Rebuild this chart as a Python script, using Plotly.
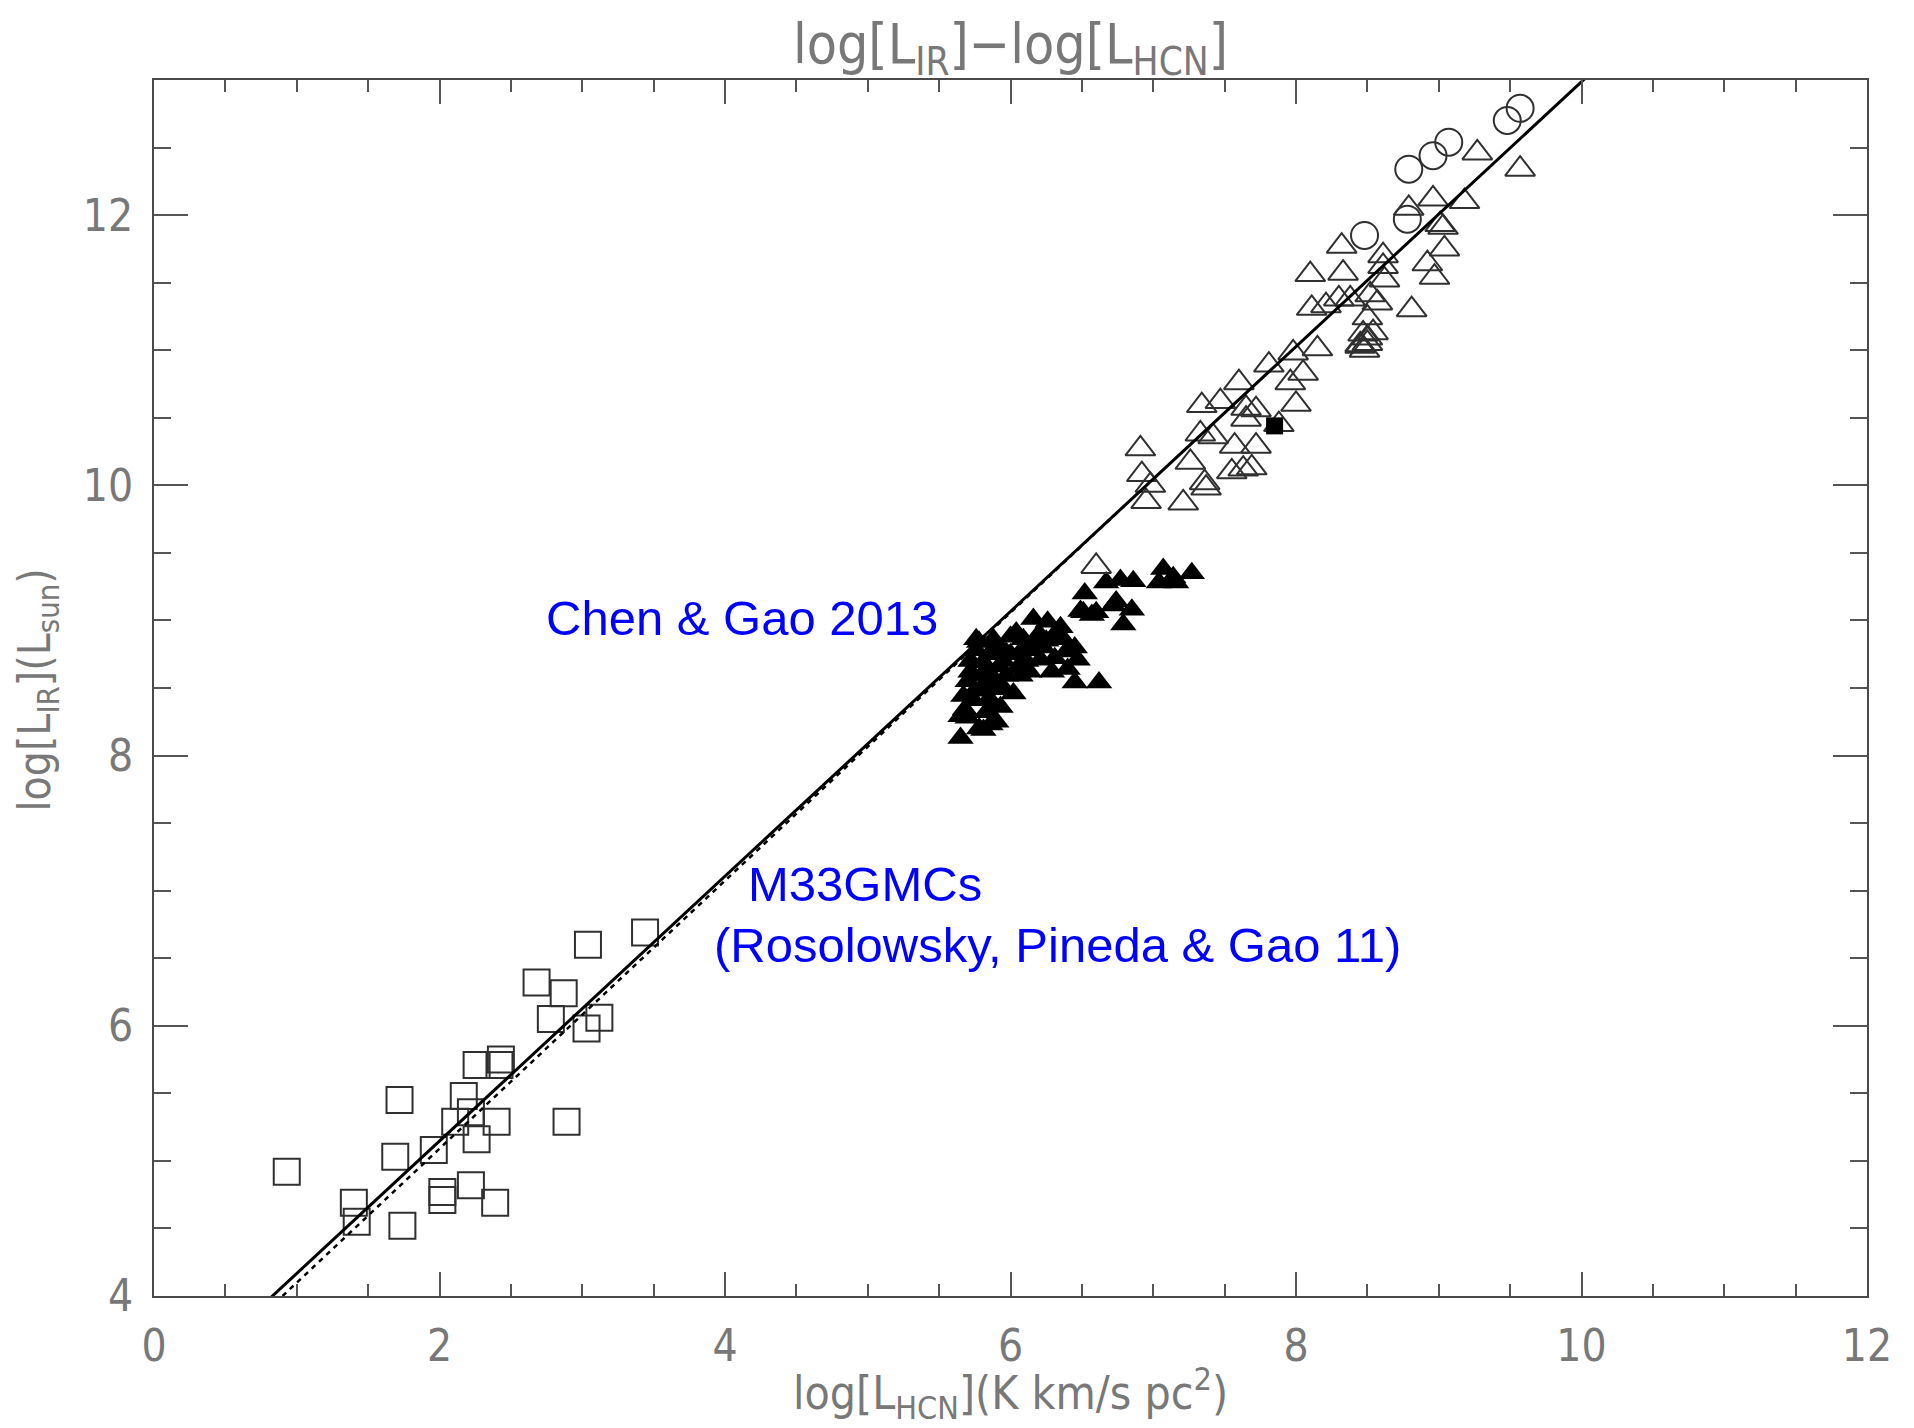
import numpy as np
import plotly.graph_objects as go

# ---- data: log L_HCN (x) vs log L_IR (y) ----
# M33 giant molecular clouds (open squares)
m33_x = [0.93, 1.40, 1.42, 1.74, 1.69, 1.72, 1.96, 2.02, 2.02, 2.22, 2.39, 2.17, 2.22,
         2.11, 2.26, 2.40, 2.26, 2.43, 2.42, 2.89, 2.68, 2.87, 2.78, 3.03, 3.12, 3.04, 3.44]
m33_y = [4.92, 4.69, 4.55, 4.52, 5.03, 5.45, 5.08, 4.77, 4.71, 4.82, 4.69, 5.48, 5.36,
         5.29, 5.16, 5.29, 5.71, 5.75, 5.71, 5.29, 6.32, 6.24, 6.05, 5.98, 6.06, 6.60, 6.69]

# Chen & Gao 2013 (filled triangles)
chen_x = [5.65, 5.81, 5.86, 5.68, 5.74, 5.83, 5.93, 6.02, 5.72, 5.76, 5.81, 5.89, 5.97,
          6.07, 5.97, 5.88, 6.00, 6.09, 6.16, 6.26, 6.18, 6.30, 6.37, 6.39, 6.31, 6.21,
          6.11, 6.47, 6.29, 6.45, 6.62, 6.51, 6.60, 6.72, 6.85, 6.79, 6.04, 5.79, 5.65,
          5.93, 5.83, 5.76, 6.74, 6.67, 6.77, 6.86, 7.07, 7.14, 7.04, 7.16, 7.27, 6.52,
          6.49, 6.57, 5.70, 5.95, 6.15, 5.85, 6.05, 6.25, 5.90, 5.78, 6.40,
          5.70, 5.75, 5.80, 5.85, 5.90, 5.95, 6.00, 6.10, 6.20, 6.35, 6.13, 5.88, 5.72,
          6.45, 5.78, 5.92, 6.08, 6.23, 5.84, 5.67]
chen_y = [8.13, 8.19, 8.23, 8.34, 8.41, 8.32, 8.36, 8.46, 8.62, 8.78, 8.69, 8.56, 8.59,
          8.59, 8.76, 8.86, 8.88, 8.86, 9.01, 8.99, 8.83, 8.88, 8.86, 8.77, 8.72, 8.71,
          8.70, 8.71, 8.62, 8.54, 8.54, 9.06, 9.06, 9.11, 9.08, 8.97, 8.91, 8.49, 8.29,
          8.49, 8.59, 8.86, 9.14, 9.28, 9.30, 9.29, 9.38, 9.32, 9.28, 9.28, 9.35, 9.20,
          9.07, 9.04, 8.55, 8.70, 8.78, 8.42, 8.65, 8.85, 8.25, 8.20, 8.64,
          8.28, 8.48, 8.60, 8.75, 8.80, 8.50, 8.75, 8.80, 8.90, 8.95, 8.62, 8.38, 8.70,
          8.80, 8.84, 8.66, 8.78, 8.80, 8.52, 8.44]

# normal galaxies and LIRGs (open triangles)
gal_x = [6.60, 6.91, 6.92, 6.98, 6.95, 7.21, 7.37, 7.36, 7.26, 7.34, 7.33, 7.42, 7.47,
         7.57, 7.60, 7.55, 7.63, 7.69, 7.72, 7.65, 7.72, 7.65, 7.88, 7.81, 7.96, 8.05,
         8.00, 8.15, 7.98, 8.45, 8.50, 8.48, 9.27, 9.57, 9.18, 8.96, 8.79, 9.01, 9.03,
         9.04, 8.92, 8.97, 8.81, 8.32, 8.10, 8.33, 8.11, 8.30, 8.38, 8.61, 8.61, 8.62,
         8.52, 8.57, 8.50, 8.47, 8.50, 8.45, 8.54, 8.21]
gal_y = [9.40, 10.27, 10.08, 10.00, 9.88, 9.87, 9.98, 10.02, 10.17, 10.59, 10.38, 10.36,
         10.62, 10.29, 10.76, 10.10, 10.12, 10.13, 10.29, 10.57, 10.56, 10.49, 10.45,
         10.89, 10.76, 10.83, 10.60, 11.01, 10.98, 11.04, 11.05, 11.00, 12.46, 12.34,
         12.10, 12.12, 12.05, 11.93, 11.91, 11.75, 11.64, 11.54, 11.30, 11.77, 11.56,
         11.57, 11.31, 11.38, 11.38, 11.70, 11.62, 11.52, 11.41, 11.35, 11.24, 11.12,
         11.09, 11.03, 11.13, 11.33]

# ULIRGs (open circles)
ulirg_x = [8.48, 8.79, 8.96, 9.07, 9.48, 9.57, 8.78]
ulirg_y = [11.85, 12.34, 12.44, 12.54, 12.70, 12.79, 11.97]

# single filled square
sq_x = [7.85]
sq_y = [10.44]

# fitted relations: log L_IR = slope * log L_HCN + intercept
fit_slope, fit_intercept = 0.98, 3.187            # all data (solid)
fit2_slope, fit2_intercept = 0.9917, 3.107        # dashed relation
fit2_xmax = 6.8

x_ticks = [0, 2, 4, 6, 8, 10, 12]
y_ticks = [4, 6, 8, 10, 12]

GRAY = "#787878"
INK = "#303030"
AXFONT = "Liberation Sans Narrow, DejaVu Sans Condensed, Liberation Sans, sans-serif"
BLUE_FONT = "Liberation Sans, Arial, sans-serif"

fig = go.Figure()

fig.add_trace(go.Scatter(
    x=m33_x, y=m33_y, mode="markers",
    marker=dict(symbol="square-open", size=26, color=INK, line=dict(width=2, color=INK)),
    showlegend=False))

fig.add_trace(go.Scatter(
    x=chen_x, y=chen_y, mode="markers",
    marker=dict(symbol="triangle-up", size=23, color="black", line=dict(width=0)),
    showlegend=False))

fig.add_trace(go.Scatter(
    x=gal_x, y=gal_y, mode="markers",
    marker=dict(symbol="triangle-up-open", size=26, color=INK, line=dict(width=2, color=INK)),
    showlegend=False))

fig.add_trace(go.Scatter(
    x=ulirg_x, y=ulirg_y, mode="markers",
    marker=dict(symbol="circle-open", size=27, color=INK, line=dict(width=2, color=INK)),
    showlegend=False))

fig.add_trace(go.Scatter(
    x=sq_x, y=sq_y, mode="markers",
    marker=dict(symbol="square", size=17, color="black", line=dict(width=0)),
    showlegend=False))

# dashed fit
x2_lo = (4 - fit2_intercept) / fit2_slope
x2 = np.array([x2_lo, fit2_xmax])
fig.add_trace(go.Scatter(
    x=x2, y=fit2_slope * x2 + fit2_intercept, mode="lines",
    line=dict(color="black", width=2.5, dash="5px,5px"), showlegend=False))

# solid fit across the full axis range (clipped by the plot area)
x1 = np.array([0.0, 12.0])
fig.add_trace(go.Scatter(
    x=x1, y=fit_slope * x1 + fit_intercept, mode="lines",
    line=dict(color="black", width=3), showlegend=False))

axis_common = dict(
    showgrid=False, zeroline=False, showline=True, linecolor="#4a4a4a", linewidth=2,
    mirror="ticks", ticks="inside", tickcolor="#555555", tickwidth=1.5,
    tickfont=dict(family=AXFONT, size=44, color=GRAY),
)

fig.update_xaxes(
    range=[0, 12], tickvals=x_ticks, ticktext=[str(v) for v in x_ticks],
    ticklen=24, ticklabelstandoff=10,
    minor=dict(dtick=0.5, ticks="inside", ticklen=12, tickcolor="#555555", tickwidth=1.5),
    **axis_common)
fig.update_yaxes(
    range=[4, 13], tickvals=y_ticks, ticktext=[str(v) for v in y_ticks],
    ticklen=34, ticklabelstandoff=10,
    minor=dict(dtick=0.5, ticks="inside", ticklen=17, tickcolor="#555555", tickwidth=1.5),
    **axis_common)

fig.update_layout(
    width=1914, height=1428,
    margin=dict(l=154, r=47, t=80, b=132, autoexpand=False),
    paper_bgcolor="white", plot_bgcolor="white",
    title=dict(text="log[L<sub>IR</sub>]\u2212log[L<sub>HCN</sub>]",
               x=0.5, xref="paper", xanchor="center",
               y=1 - 44 / 1428, yref="container", yanchor="middle",
               font=dict(family=AXFONT, size=55, color=GRAY)),
    annotations=[
        dict(text="log[L<sub>HCN</sub>](K km/s pc<sup>2</sup>)", xref="paper", yref="paper",
             x=0.5, y=-97 / 1216, xanchor="center", yanchor="middle", showarrow=False,
             font=dict(family=AXFONT, size=46, color=GRAY)),
        dict(text="log[L<sub>IR</sub>](L<sub>sun</sub>)", xref="paper", yref="paper",
             x=-117 / 1713, y=0.498, xanchor="center", yanchor="middle", showarrow=False,
             textangle=-90, font=dict(family=AXFONT, size=44, color=GRAY)),
        dict(text="Chen &amp; Gao 2013", x=4.12, y=9.02, xref="x", yref="y",
             xanchor="center", yanchor="middle", showarrow=False,
             font=dict(family=BLUE_FONT, size=49, color="#0000ff")),
        dict(text="M33GMCs", x=4.98, y=7.05, xref="x", yref="y",
             xanchor="center", yanchor="middle", showarrow=False,
             font=dict(family=BLUE_FONT, size=49, color="#0000ff")),
        dict(text="(Rosolowsky, Pineda &amp; Gao 11)", x=6.33, y=6.6, xref="x", yref="y",
             xanchor="center", yanchor="middle", showarrow=False,
             font=dict(family=BLUE_FONT, size=49, color="#0000ff")),
    ],
)

fig.write_html("out.html")
